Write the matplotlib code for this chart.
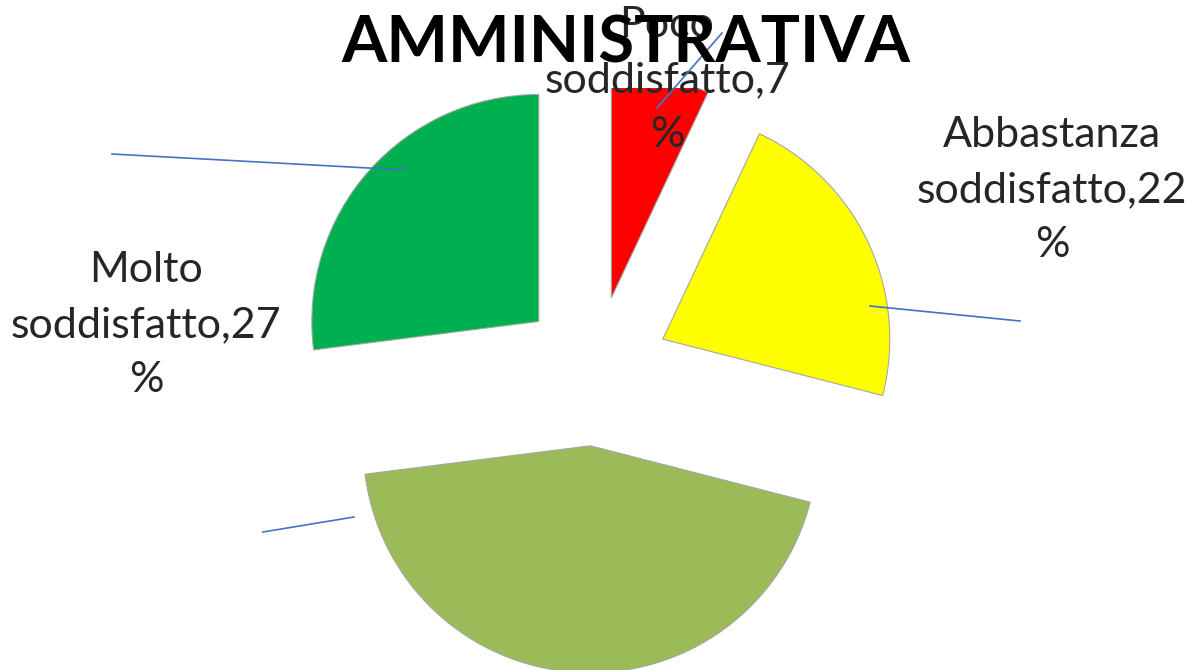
import matplotlib
matplotlib.use("Agg")
import matplotlib.pyplot as plt

# data
categories = ["Poco soddisfatto", "Abbastanza soddisfatto", "Soddisfatto", "Molto soddisfatto"]
values = [7, 22, 44, 27]
labels = ["Poco\nsoddisfatto,7\n%", "Abbastanza\nsoddisfatto,22\n%", "", "Molto\nsoddisfatto,27\n%"]
colors = ["#FF0000", "#FFFF00", "#9BBB59", "#00B050"]

# layout (pixels in a 1192x670 picture)
W, H = 1192, 670
cx, cy, rad = 595, 371, 227
label_pos = [(667, 80), (1052, 190), None, (146, 325)]
leaders = [((722, 33), (657, 108)), ((1020, 321), (870, 306)),
           ((263, 532), (354, 517)), ((112, 154), (405, 170))]

plt.rcParams['font.family'] = ['Lato', 'DejaVu Sans']
fig = plt.figure(figsize=(W / 100, H / 100), dpi=100)
top = 88
ax = fig.add_axes([0, 0, 1, (H - top) / H])

wedges, _ = ax.pie(values, colors=colors, startangle=90, counterclock=False,
                   explode=[0.33] * 4, radius=1,
                   wedgeprops=dict(edgecolor="#A6A6A6", linewidth=0.8))
for w in wedges:
    w.set_clip_on(True)
    w.set_clip_path(ax.patch)
ax.set_xlim((0 - cx) / rad, (W - cx) / rad)
ax.set_ylim((cy - H) / rad, (cy - top) / rad)
ax.set_aspect("equal")
ax.axis("off")


def fx(px):
    return px / W


def fy(py):
    return 1 - py / H


for (p0, p1) in leaders:
    fig.add_artist(plt.Line2D([fx(p0[0]), fx(p1[0])], [fy(p0[1]), fy(p1[1])],
                              color="#4472C4", lw=1.2, zorder=4))

for lab, pos in zip(labels, label_pos):
    if pos is None:
        continue
    fig.text(fx(pos[0]), fy(pos[1]), lab, ha="center", va="center",
             fontsize=31, color="#262626", linespacing=1.55, zorder=3)

fig.text(fx(626), fy(44), "AMMINISTRATIVA", ha="center", va="center",
         fontsize=47, fontweight="bold", color="black", zorder=5)

fig.savefig("out.png", dpi=100)
